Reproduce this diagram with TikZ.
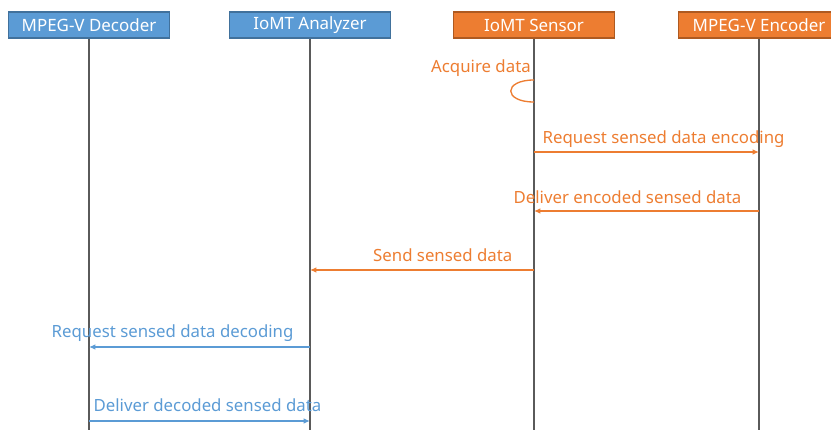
\documentclass[tikz,border=0pt]{standalone}
\usepackage{fontspec}
\setmainfont{Noto Sans}
\usetikzlibrary{arrows.meta,positioning}
\definecolor{iotblue}{HTML}{5B9BD5}
\definecolor{iotbluedark}{HTML}{41719C}
\definecolor{iotorange}{HTML}{ED7D31}
\definecolor{iotorangedark}{HTML}{AE5A21}
\definecolor{iotline}{HTML}{5A5A5A}
\tikzset{
  lhead/.style={line width=.8pt,minimum width=120.75pt,minimum height=19.5pt,
    inner sep=0pt,font=\fontsize{12.7}{14}\selectfont,text=white},
  bluehead/.style={lhead,draw=iotbluedark,fill=iotblue},
  orangehead/.style={lhead,draw=iotorangedark,fill=iotorange},
  lifeline/.style={draw=iotline,line width=.8pt},
  mlabel/.style={inner sep=0pt,font=\fontsize{12.6}{14}\selectfont},
  omsg/.style={-{Latex[length=1.7mm,width=1.5mm]},line width=1pt,draw=iotorange,text=iotorange},
  bmsg/.style={-{Latex[length=1.7mm,width=1.5mm]},line width=1pt,draw=iotblue,text=iotblue}
}
\begin{document}
\begin{tikzpicture}[x=0.75pt,y=-0.75pt]
  \useasboundingbox (0,0) rectangle (831,429);
  % participants
  \node[bluehead] (dec) at (89,25) {MPEG-V Decoder};
  \node[bluehead] (ana) at (310,25) {IoMT Analyzer};
  \node[orangehead] (sen) at (534,25) {IoMT Sensor};
  \node[orangehead] (enc) at (759,25) {MPEG-V Encoder};
  \coordinate (bottom) at (0,431);
  \draw[lifeline] (dec) -- (dec |- bottom);
  \draw[lifeline] (ana) -- (ana |- bottom);
  \draw[lifeline] (sen) -- (sen |- bottom);
  \draw[lifeline] (enc) -- (enc |- bottom);
  % self call on the sensor
  \coordinate (acq1) at (534,80);
  \coordinate (acq2) at (534,102);
  \node[mlabel,text=iotorange,anchor=base east] (acq) at (531,72) {Acquire data};
  \draw[iotorange,line width=1pt] (sen |- acq1) .. controls (503,80) and (503,102) .. (sen |- acq2);
  % message rows
  \coordinate (m1) at (0,152);
  \coordinate (m2) at (0,211);
  \coordinate (m3) at (0,270);
  \coordinate (m4) at (0,347);
  \coordinate (m5) at (0,421);
  \draw[omsg] (sen |- m1) -- node[mlabel,pos=0,anchor=base west,xshift=6pt,yshift=6.75pt] {Request sensed data encoding} (enc |- m1);
  \draw[omsg] (enc |- m2) -- node[mlabel,pos=1,anchor=base west,xshift=-15.75pt,yshift=6pt] {Deliver encoded sensed data} (sen |- m2);
  \draw[omsg] (sen |- m3) -- node[mlabel,pos=0,anchor=base east,xshift=-15.75pt,yshift=6.2pt] {Send sensed data} (ana |- m3);
  \draw[bmsg] (ana |- m4) -- node[mlabel,pos=1,anchor=base west,xshift=-28.5pt,yshift=7.5pt] {Request sensed data decoding} (dec |- m4);
  \draw[bmsg] (dec |- m5) -- node[mlabel,pos=0,anchor=base west,xshift=3pt,yshift=7.5pt] {Deliver decoded sensed data} (ana |- m5);
\end{tikzpicture}
\end{document}
